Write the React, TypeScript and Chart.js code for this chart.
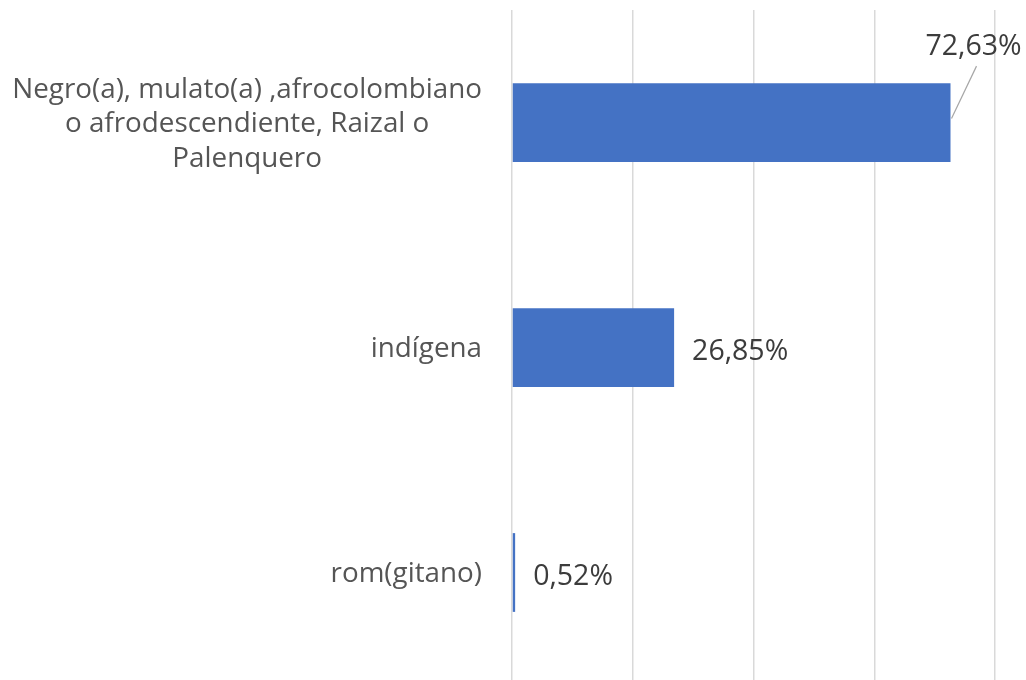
import React, { useEffect, useRef } from "react";
import { Chart, registerables } from "chart.js";

Chart.register(...registerables);

const categories: string[][] = [
  ["Negro(a), mulato(a) ,afrocolombiano", "o afrodescendiente, Raizal o", "Palenquero"],
  ["indígena"],
  ["rom(gitano)"],
];
const values: number[] = [72.63, 26.85, 0.52];
const xTicks: number[] = [0, 20, 40, 60, 80];

const FONT = '"Open Sans", "Noto Sans", sans-serif';
const CAT_FONT_SIZE = 27.8;
const VAL_FONT_SIZE = 28.5;
const LINE_H = 34.5;

const fmt = (v: number) => v.toFixed(2).replace(".", ",") + "%";

const labelPlugin = {
  id: "customLabels",
  afterDraw(chart: any) {
    const ctx = chart.ctx as CanvasRenderingContext2D;
    const yScale = chart.scales.y;
    const area = chart.chartArea;
    ctx.save();
    ctx.textBaseline = "middle";
    // category labels
    ctx.font = `${CAT_FONT_SIZE}px ${FONT}`;
    ctx.fillStyle = "#555555";
    categories.forEach((lines, i) => {
      const cy = yScale.getPixelForValue(i);
      const maxW = Math.max(...lines.map((l) => ctx.measureText(l).width));
      const right = area.left - 30;
      const cx = right - maxW / 2;
      ctx.textAlign = "center";
      lines.forEach((l, j) => {
        ctx.fillText(l, cx, cy + 2 + (j - (lines.length - 1) / 2) * LINE_H);
      });
    });
    // value labels
    ctx.font = `${VAL_FONT_SIZE}px ${FONT}`;
    const meta = chart.getDatasetMeta(0);
    ctx.fillStyle = "#3c3c3c";
    meta.data.forEach((bar: any, i: number) => {
      const text = fmt(values[i]);
      const w = ctx.measureText(text).width;
      const barEnd = bar.x;
      const cy = bar.y;
      const h = bar.height;
      if (barEnd + 18 + w > chart.width) {
        const top = cy - h / 2;
        const lx = barEnd + 23;
        const ly = top - 36;
        ctx.textAlign = "center";
        ctx.fillText(text, lx, ly);
        ctx.strokeStyle = "#a6a6a6";
        ctx.lineWidth = 1.2;
        ctx.beginPath();
        ctx.moveTo(barEnd + 1, cy - 4);
        ctx.lineTo(barEnd + 26, top - 17);
        ctx.stroke();
      } else {
        ctx.textAlign = "left";
        ctx.fillText(text, barEnd + 18, cy + 4);
      }
    });
    ctx.restore();
  },
};

export default function App() {
  const ref = useRef<HTMLCanvasElement | null>(null);
  useEffect(() => {
    if (!ref.current) return;
    const chart = new Chart(ref.current, {
      type: "bar",
      data: {
        labels: categories,
        datasets: [
          {
            data: values,
            backgroundColor: "#4472C4",
            borderWidth: 0,
            categoryPercentage: 1,
            barPercentage: 0.35,
          },
        ],
      },
      options: {
        indexAxis: "y",
        animation: false,
        responsive: true,
        maintainAspectRatio: false,
        layout: { padding: { left: 512, right: 31, top: 10, bottom: 15 } },
        plugins: { legend: { display: false }, tooltip: { enabled: false } },
        scales: {
          x: {
            min: 0,
            max: 80,
            afterBuildTicks: (scale: any) => {
              scale.ticks = xTicks.map((v) => ({ value: v }));
            },
            ticks: { display: false },
            grid: { color: "#d9d9d9", lineWidth: 1.5, drawTicks: false },
            border: { display: false },
          },
          y: {
            display: false,
            grid: { display: false },
          },
        },
      },
      plugins: [labelPlugin],
    });
    return () => chart.destroy();
  }, []);
  return (
    <div
      style={{
        position: "fixed",
        left: 0,
        top: 0,
        width: 1026,
        height: 680,
        overflow: "hidden",
        background: "#fff",
      }}
    >
      <div style={{ position: "relative", width: 1026, height: 700 }}>
        <canvas ref={ref} />
      </div>
    </div>
  );
}
